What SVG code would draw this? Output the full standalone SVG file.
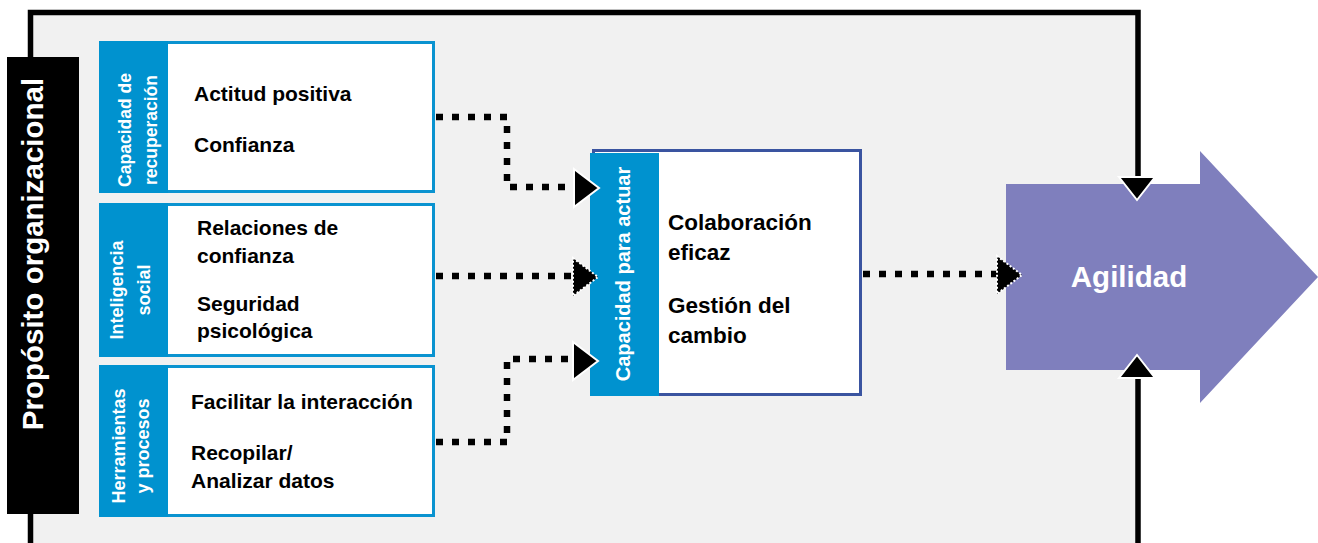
<svg xmlns="http://www.w3.org/2000/svg" width="1318" height="543" viewBox="0 0 1318 543">
  <defs>
    <style>
      .t { font-family: "Liberation Sans", Arial, sans-serif; font-weight: bold; }
      .item { font-size: 21px; fill: #000; }
      .item-c { font-size: 22.5px; fill: #000; }
      .side { font-size: 18px; fill: #fff; text-anchor: middle; }
      .card { fill: #fff; stroke: #0a93d0; stroke-width: 3; }
      .bar { fill: #0092cf; }
      .dots { fill: none; stroke: #000; stroke-width: 6.5; stroke-dasharray: 7 9; }
      .head { fill: #000; stroke: #fff; stroke-width: 2; }
      .head-d { fill: #000; stroke: #fff; stroke-width: 2; stroke-dasharray: 2 2; }
      .frame { fill: none; stroke: #000; stroke-width: 5.5; }
    </style>
    <path id="tri" d="M0,-19 L25,0 L0,19 Z"/>
  </defs>

  <!-- organisation frame -->
  <rect x="30.5" y="12.5" width="1107" height="540" fill="#f1f1f1"/>
  <path class="frame" d="M30.5,560 V12.5 H1138 V176"/>
  <path class="frame" d="M1138,378 V560"/>

  <!-- purpose bar -->
  <g id="proposito">
    <rect x="7" y="57" width="72" height="457" fill="#000"/>
    <text class="t" font-size="29.5" fill="#fff" text-anchor="middle" transform="translate(43,254) rotate(-90)">Propósito organizacional</text>
  </g>

  <!-- resilience -->
  <g id="recuperacion">
    <rect class="card" x="100.5" y="42.5" width="333" height="149"/>
    <rect class="bar" x="99" y="41" width="69" height="152"/>
    <text class="t side" font-size="17.5" transform="translate(131,130) rotate(-90)" style="font-size:17.5px">Capacidad de</text>
    <text class="t side" transform="translate(157,130) rotate(-90)" style="font-size:17.5px">recuperación</text>
    <text class="t item" x="194" y="101">Actitud positiva</text>
    <text class="t item" x="194" y="152">Confianza</text>
  </g>

  <!-- social intelligence -->
  <g id="inteligencia">
    <rect class="card" x="100.5" y="204.5" width="333" height="151"/>
    <rect class="bar" x="99" y="203" width="69" height="154"/>
    <text class="t side" transform="translate(123,290) rotate(-90)">Inteligencia</text>
    <text class="t side" transform="translate(150,290) rotate(-90)">social</text>
    <text class="t item" x="197" y="235">Relaciones de</text>
    <text class="t item" x="197" y="263">confianza</text>
    <text class="t item" x="197" y="311">Seguridad</text>
    <text class="t item" x="197" y="338">psicológica</text>
  </g>

  <!-- tools and processes -->
  <g id="herramientas">
    <rect class="card" x="100.5" y="366.5" width="333" height="149"/>
    <rect class="bar" x="99" y="365" width="69" height="152"/>
    <text class="t side" transform="translate(125,446) rotate(-90)">Herramientas</text>
    <text class="t side" transform="translate(149,446) rotate(-90)">y procesos</text>
    <text class="t item" x="191" y="409">Facilitar la interacción</text>
    <text class="t item" x="191" y="460">Recopilar/</text>
    <text class="t item" x="191" y="488">Analizar datos</text>
  </g>

  <!-- capacity to act -->
  <g id="capacidad">
    <rect x="593.5" y="150.5" width="267" height="244" fill="#fff" stroke="#3a54a0" stroke-width="3"/>
    <rect class="bar" x="590" y="153" width="69" height="243"/>
    <text class="t side" transform="translate(630,274) rotate(-90)" style="font-size:20px">Capacidad para actuar</text>
    <text class="t item-c" x="668" y="230">Colaboración</text>
    <text class="t item-c" x="668" y="260">eficaz</text>
    <text class="t item-c" x="668" y="313">Gestión del</text>
    <text class="t item-c" x="668" y="343">cambio</text>
  </g>

  <!-- agility -->
  <g id="agilidad">
    <path d="M1006,184 H1200 V151 L1318,277 L1200,403 V370 H1006 Z" fill="#7f7fbd"/>
    <text class="t" x="1129" y="287" font-size="29.5" fill="#fff" text-anchor="middle">Agilidad</text>
  </g>

  <!-- connectors -->
  <g id="connectors">
    <path class="dots" d="M436,117 H507 V187 H574"/>
    <path class="dots" d="M436,276 H574"/>
    <path class="dots" d="M436,442 H507 V359 H574"/>
    <path class="dots" d="M863,274 H998"/>
    <use href="#tri" class="head" x="574" y="188"/>
    <use href="#tri" class="head-d" x="573" y="277"/>
    <use href="#tri" class="head" x="573" y="361"/>
    <use href="#tri" class="head-d" x="997" y="275"/>
    <path class="head" d="M1119,177 H1155 L1137,200 Z"/>
    <path class="head" d="M1119,378 H1155 L1137,355 Z"/>
  </g>
</svg>
